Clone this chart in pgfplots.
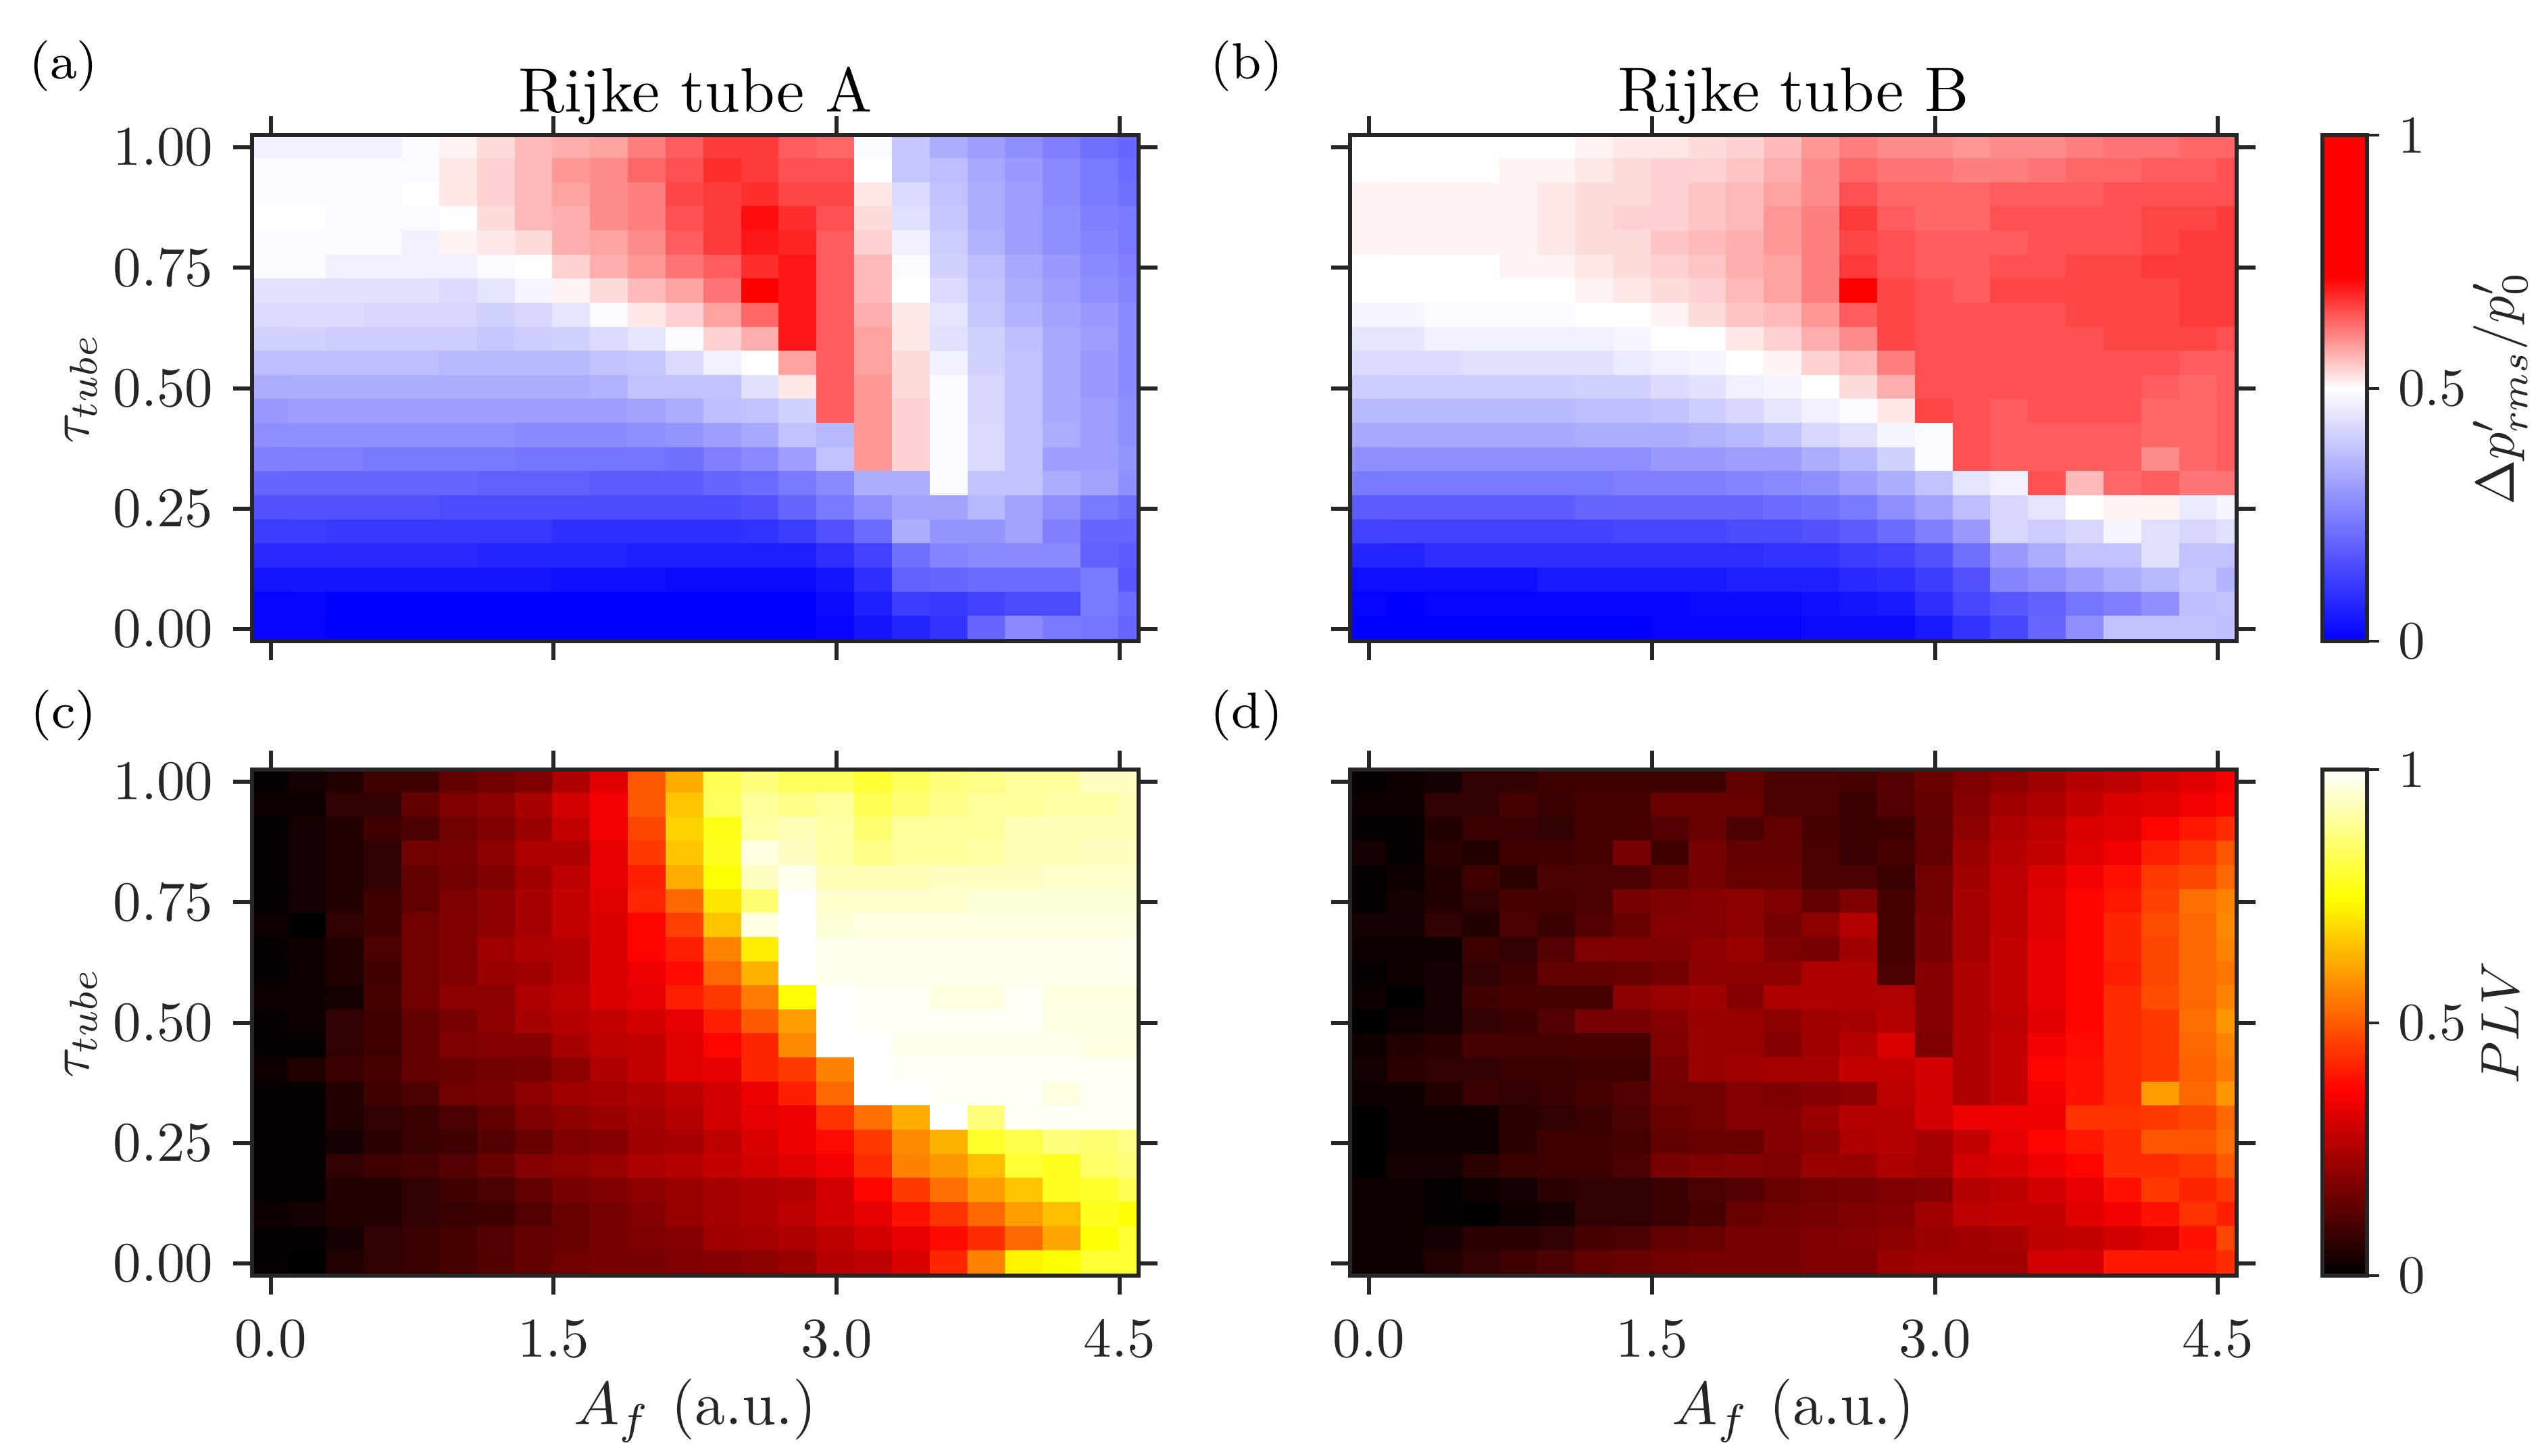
\RequirePackage{fix-cm}
\documentclass[border=0pt]{standalone}
\usepackage{pgfplots}
\usepackage{pgfplotstable}
\pgfplotsset{compat=1.18}
\definecolor{cdark}{HTML}{262626}

% colour values in percent of the colour range, rows from y=1.00 down to y=0.00, 24 per row
\pgfplotstableread[row sep=crcr]{z\\
47\\47\\47\\47\\49\\51\\53\\56\\57\\58\\61\\64\\67\\67\\64\\63\\49\\39\\34\\31\\28\\25\\22\\20\\
49\\49\\49\\49\\49\\52\\54\\56\\59\\60\\63\\65\\68\\67\\65\\65\\50\\39\\37\\33\\30\\27\\24\\21\\
49\\49\\49\\49\\50\\52\\54\\56\\58\\60\\61\\66\\67\\68\\66\\66\\52\\43\\38\\34\\31\\27\\24\\22\\
50\\50\\49\\49\\49\\50\\53\\56\\57\\60\\61\\65\\67\\71\\68\\65\\53\\44\\39\\34\\31\\28\\25\\24\\
49\\49\\49\\49\\47\\51\\52\\53\\57\\58\\60\\64\\67\\70\\69\\64\\54\\47\\40\\35\\31\\28\\26\\24\\
49\\49\\47\\47\\47\\47\\49\\50\\54\\57\\59\\62\\64\\68\\70\\64\\56\\49\\41\\37\\33\\30\\27\\25\\
44\\44\\44\\44\\44\\43\\45\\48\\51\\53\\56\\58\\62\\72\\70\\64\\56\\50\\43\\38\\34\\31\\28\\26\\
43\\43\\43\\42\\42\\42\\41\\42\\45\\49\\52\\54\\58\\63\\70\\64\\57\\52\\45\\39\\35\\32\\30\\27\\
41\\41\\40\\40\\40\\40\\39\\40\\41\\43\\45\\49\\54\\57\\70\\64\\58\\52\\44\\41\\37\\33\\31\\27\\
37\\37\\37\\37\\37\\36\\36\\36\\36\\38\\39\\43\\47\\50\\58\\64\\58\\53\\47\\41\\38\\33\\30\\27\\
34\\34\\34\\34\\34\\34\\34\\34\\34\\35\\38\\38\\38\\44\\52\\64\\59\\53\\49\\42\\38\\33\\30\\27\\
30\\31\\31\\31\\31\\31\\31\\31\\31\\31\\32\\34\\37\\38\\41\\64\\59\\54\\49\\42\\38\\33\\31\\28\\
28\\28\\28\\28\\28\\28\\28\\27\\27\\27\\28\\29\\31\\33\\38\\36\\59\\54\\49\\43\\38\\34\\31\\28\\
25\\25\\25\\24\\24\\24\\24\\23\\23\\23\\23\\22\\25\\27\\31\\38\\59\\54\\49\\43\\38\\31\\31\\29\\
20\\20\\20\\20\\20\\20\\19\\19\\19\\18\\18\\18\\20\\21\\24\\27\\34\\34\\49\\38\\38\\34\\32\\28\\
16\\16\\16\\16\\16\\15\\15\\15\\15\\15\\15\\15\\15\\16\\20\\24\\28\\32\\32\\36\\32\\28\\24\\22\\
12\\12\\11\\11\\11\\11\\11\\11\\9\\9\\9\\9\\9\\10\\12\\16\\21\\34\\29\\29\\32\\25\\20\\20\\
8\\8\\8\\8\\8\\8\\7\\7\\7\\7\\6\\6\\6\\6\\6\\9\\13\\22\\26\\27\\27\\27\\19\\18\\
4\\4\\4\\4\\4\\4\\4\\4\\3\\3\\3\\2\\2\\2\\2\\4\\9\\19\\20\\21\\21\\21\\24\\17\\
1\\1\\0\\0\\0\\0\\0\\0\\0\\0\\0\\0\\0\\0\\0\\2\\6\\12\\11\\13\\15\\15\\24\\21\\
1\\1\\0\\0\\0\\0\\0\\0\\0\\0\\0\\0\\0\\0\\0\\1\\4\\7\\10\\20\\27\\24\\23\\20\\
}\tabA

\pgfplotstableread[row sep=crcr]{z\\
50\\50\\50\\50\\50\\50\\51\\52\\52\\53\\54\\56\\59\\61\\60\\60\\59\\60\\60\\61\\62\\62\\63\\63\\
50\\50\\50\\50\\51\\51\\52\\53\\54\\54\\55\\57\\60\\63\\62\\62\\61\\61\\62\\63\\63\\64\\64\\65\\
51\\51\\51\\51\\51\\52\\53\\53\\54\\55\\56\\58\\60\\65\\63\\63\\63\\64\\64\\64\\65\\65\\65\\65\\
51\\51\\51\\51\\51\\52\\53\\54\\54\\55\\56\\59\\61\\67\\64\\63\\63\\65\\65\\65\\65\\66\\66\\67\\
51\\51\\51\\51\\51\\52\\53\\53\\55\\56\\57\\59\\61\\66\\65\\64\\64\\64\\65\\65\\65\\66\\67\\67\\
50\\50\\50\\50\\51\\51\\52\\53\\54\\55\\57\\58\\61\\67\\65\\64\\64\\65\\65\\66\\66\\67\\67\\67\\
50\\50\\50\\50\\50\\50\\51\\52\\53\\54\\56\\58\\61\\72\\66\\65\\64\\66\\66\\66\\66\\66\\67\\67\\
48\\48\\49\\49\\49\\49\\50\\50\\51\\53\\55\\56\\59\\64\\66\\65\\65\\65\\65\\66\\66\\66\\67\\67\\
45\\45\\47\\47\\47\\47\\47\\48\\50\\50\\52\\54\\57\\60\\66\\65\\65\\65\\65\\65\\66\\66\\66\\65\\
43\\43\\43\\44\\44\\44\\44\\46\\47\\48\\50\\51\\54\\56\\61\\65\\65\\65\\65\\65\\65\\65\\64\\64\\
40\\40\\40\\40\\40\\40\\41\\41\\43\\44\\47\\48\\50\\53\\57\\65\\65\\65\\65\\65\\65\\64\\63\\64\\
36\\36\\36\\36\\36\\36\\37\\37\\38\\40\\42\\45\\47\\49\\52\\66\\65\\64\\65\\65\\65\\63\\63\\64\\
33\\33\\33\\33\\33\\33\\34\\34\\34\\35\\36\\38\\42\\44\\48\\49\\65\\64\\64\\64\\64\\63\\63\\64\\
28\\28\\28\\28\\28\\28\\28\\28\\30\\30\\31\\31\\34\\36\\41\\49\\65\\64\\64\\64\\64\\60\\63\\64\\
24\\24\\24\\24\\24\\24\\24\\25\\25\\25\\26\\27\\28\\31\\34\\38\\45\\47\\65\\56\\63\\64\\62\\62\\
18\\18\\18\\18\\18\\18\\20\\20\\20\\20\\20\\21\\22\\24\\28\\32\\37\\42\\45\\50\\51\\51\\46\\48\\
13\\13\\13\\13\\13\\13\\13\\14\\14\\14\\15\\15\\16\\18\\21\\25\\30\\42\\40\\42\\48\\44\\42\\44\\
7\\7\\9\\9\\9\\9\\9\\9\\9\\9\\9\\10\\10\\12\\13\\16\\22\\30\\34\\38\\38\\44\\38\\38\\
3\\3\\3\\3\\3\\5\\5\\5\\5\\5\\6\\6\\6\\8\\9\\12\\16\\26\\28\\31\\34\\36\\39\\35\\
1\\0\\1\\1\\1\\1\\1\\1\\1\\2\\2\\2\\3\\4\\5\\9\\14\\17\\19\\23\\25\\28\\37\\38\\
0\\0\\0\\0\\0\\0\\0\\0\\1\\1\\1\\1\\2\\2\\2\\5\\10\\14\\20\\28\\38\\38\\38\\37\\
}\tabB

\pgfplotstableread[row sep=crcr]{z\\
1\\3\\5\\9\\9\\14\\16\\18\\25\\32\\50\\62\\83\\87\\84\\84\\80\\84\\87\\88\\90\\90\\94\\94\\
2\\2\\7\\7\\14\\18\\20\\24\\30\\35\\50\\66\\84\\90\\88\\90\\83\\86\\88\\90\\90\\91\\91\\93\\
1\\3\\5\\9\\11\\16\\18\\22\\28\\35\\47\\68\\77\\91\\93\\91\\86\\90\\90\\90\\93\\93\\93\\93\\
1\\3\\5\\7\\16\\17\\20\\25\\25\\33\\45\\66\\78\\97\\94\\91\\88\\90\\90\\91\\93\\93\\94\\94\\
1\\3\\5\\7\\14\\16\\18\\23\\27\\33\\41\\62\\75\\94\\98\\93\\93\\93\\94\\94\\94\\95\\95\\95\\
1\\3\\5\\9\\14\\18\\20\\24\\28\\32\\42\\52\\71\\86\\100\\95\\95\\95\\95\\96\\96\\96\\96\\96\\
2\\0\\7\\9\\16\\18\\20\\24\\28\\31\\37\\46\\66\\97\\100\\96\\97\\97\\97\\97\\97\\97\\97\\97\\
1\\2\\5\\11\\16\\18\\23\\25\\26\\31\\37\\41\\56\\72\\100\\98\\98\\98\\98\\98\\98\\98\\98\\98\\
1\\2\\5\\9\\16\\18\\22\\23\\26\\31\\34\\38\\52\\63\\100\\98\\98\\98\\98\\98\\98\\98\\98\\98\\
2\\2\\3\\10\\16\\20\\20\\25\\27\\31\\33\\41\\45\\55\\75\\100\\99\\99\\97\\97\\99\\97\\97\\97\\
1\\2\\7\\9\\14\\17\\20\\24\\26\\28\\30\\33\\41\\50\\60\\100\\99\\99\\99\\99\\99\\97\\97\\97\\
1\\1\\7\\9\\14\\18\\19\\19\\24\\27\\28\\32\\37\\42\\57\\100\\100\\98\\98\\98\\98\\98\\97\\97\\
2\\5\\8\\10\\14\\15\\16\\17\\20\\25\\28\\32\\33\\42\\45\\56\\100\\99\\99\\99\\99\\99\\99\\99\\
1\\1\\5\\9\\11\\16\\17\\20\\23\\24\\25\\27\\30\\34\\41\\52\\100\\100\\99\\99\\99\\97\\99\\99\\
1\\1\\5\\7\\8\\11\\14\\18\\20\\22\\24\\26\\30\\33\\34\\44\\53\\62\\100\\87\\99\\99\\99\\99\\
1\\1\\3\\6\\8\\9\\12\\15\\18\\19\\23\\24\\27\\31\\34\\38\\45\\57\\63\\79\\82\\87\\86\\88\\
1\\1\\7\\9\\10\\12\\15\\19\\20\\22\\25\\26\\28\\30\\32\\35\\43\\56\\59\\65\\80\\78\\85\\87\\
1\\1\\5\\5\\7\\9\\11\\14\\17\\18\\20\\22\\24\\25\\26\\30\\37\\45\\53\\60\\66\\78\\79\\83\\
2\\3\\5\\5\\7\\8\\9\\12\\15\\17\\19\\22\\24\\25\\27\\30\\33\\39\\44\\52\\60\\65\\78\\75\\
1\\1\\3\\7\\8\\10\\12\\14\\15\\17\\18\\19\\23\\24\\25\\27\\30\\33\\38\\43\\52\\61\\75\\80\\
1\\0\\5\\7\\8\\10\\12\\14\\16\\17\\17\\18\\19\\20\\22\\26\\27\\31\\42\\56\\73\\75\\80\\80\\
}\tabC

\pgfplotstableread[row sep=crcr]{z\\
1\\2\\3\\7\\7\\9\\9\\9\\9\\9\\14\\11\\11\\10\\12\\15\\18\\20\\23\\26\\27\\30\\32\\35\\
2\\2\\7\\7\\10\\8\\10\\10\\15\\15\\15\\11\\11\\8\\12\\14\\19\\23\\25\\28\\31\\32\\35\\37\\
1\\1\\5\\8\\8\\7\\10\\10\\12\\15\\11\\14\\10\\8\\9\\14\\20\\25\\27\\31\\32\\37\\40\\43\\
3\\1\\6\\5\\9\\9\\10\\17\\9\\17\\14\\14\\11\\8\\10\\14\\22\\26\\28\\32\\35\\41\\44\\49\\
1\\2\\5\\9\\6\\11\\11\\11\\14\\17\\15\\15\\11\\11\\8\\16\\23\\27\\31\\35\\39\\45\\47\\52\\
1\\3\\5\\7\\10\\10\\11\\17\\18\\19\\20\\18\\14\\18\\10\\16\\24\\27\\32\\37\\40\\46\\53\\56\\
3\\3\\7\\5\\11\\8\\12\\15\\19\\19\\20\\17\\20\\26\\10\\17\\24\\27\\32\\37\\42\\48\\52\\57\\
2\\2\\2\\9\\7\\12\\18\\18\\18\\20\\22\\18\\17\\23\\10\\17\\24\\28\\33\\37\\42\\47\\52\\56\\
1\\2\\3\\7\\9\\14\\14\\15\\16\\20\\20\\20\\25\\25\\11\\19\\25\\28\\33\\37\\41\\47\\52\\54\\
2\\0\\3\\9\\10\\10\\10\\20\\22\\23\\19\\25\\25\\25\\25\\19\\25\\28\\33\\37\\43\\48\\52\\56\\
0\\2\\3\\7\\8\\12\\17\\17\\19\\22\\22\\20\\23\\24\\26\\19\\25\\27\\32\\37\\43\\45\\53\\59\\
2\\5\\6\\10\\10\\10\\10\\10\\18\\22\\22\\19\\23\\26\\31\\18\\25\\28\\35\\38\\43\\45\\52\\56\\
3\\6\\7\\7\\8\\8\\9\\9\\17\\22\\23\\24\\24\\28\\28\\30\\25\\28\\37\\39\\43\\45\\51\\55\\
2\\2\\5\\8\\7\\8\\10\\12\\16\\16\\19\\18\\19\\20\\27\\30\\25\\28\\35\\39\\43\\60\\52\\59\\
0\\2\\2\\2\\6\\7\\8\\11\\15\\16\\19\\19\\22\\26\\26\\30\\34\\34\\34\\44\\44\\45\\47\\52\\
0\\2\\2\\2\\6\\9\\9\\10\\14\\15\\15\\19\\20\\25\\26\\24\\28\\33\\37\\40\\43\\49\\49\\53\\
0\\3\\3\\6\\8\\9\\9\\11\\17\\18\\19\\18\\22\\22\\25\\24\\30\\31\\34\\37\\43\\43\\45\\50\\
2\\2\\1\\2\\3\\6\\7\\7\\8\\11\\12\\15\\16\\17\\18\\19\\26\\27\\30\\33\\39\\45\\42\\45\\
2\\2\\1\\0\\2\\3\\7\\7\\8\\10\\15\\16\\17\\18\\19\\23\\27\\28\\28\\32\\35\\39\\44\\41\\
2\\2\\3\\6\\6\\7\\10\\11\\14\\15\\17\\17\\18\\19\\20\\22\\23\\24\\27\\28\\30\\32\\39\\47\\
2\\2\\5\\7\\9\\11\\14\\15\\16\\17\\17\\17\\18\\18\\22\\23\\23\\23\\30\\30\\40\\40\\40\\43\\
}\tabD

\pgfplotsset{
  colormap={bluered}{rgb255(0pt)=(0,0,255); rgb255(50pt)=(255,255,255); rgb255(72pt)=(255,0,0); rgb255(100pt)=(255,0,0)},
  colormap={hotmap}{rgb255(0pt)=(0,0,0); rgb255(36.5pt)=(255,0,0); rgb255(74.6pt)=(255,255,0); rgb255(100pt)=(255,255,255)},
  heat/.style={
    scale only axis, width=131.24pt, height=74.86pt, anchor=south west,
    xmin=-0.1, xmax=4.6, ymin=-0.025, ymax=1.025,
    xtick={0,1.5,3,4.5}, ytick={0,0.25,0.5,0.75,1},
    axis on top, tick align=outside, tick pos=both, major tick length=2.8pt,
    axis line style={color=cdark, line width=0.6pt},
    tick style={color=cdark, line width=0.6pt},
    every tick label/.append style={text=cdark, scale=0.83, transform shape},
    xticklabel style={yshift=-1.2pt, /pgf/number format/fixed, /pgf/number format/fixed zerofill, /pgf/number format/precision=1},
    yticklabel style={/pgf/number format/fixed, /pgf/number format/fixed zerofill, /pgf/number format/precision=2},
    xlabel style={at={(axis description cs:0.5,-0.267)}, anchor=center, text=cdark, scale=0.9, transform shape},
    ylabel style={at={(axis description cs:-0.1925,0.5)}, anchor=center, text=cdark, scale=0.82, transform shape},
    title style={at={(axis description cs:0.5,1.088)}, anchor=center, yshift=-6.7pt, scale=0.926, transform shape},
    point meta min=0, point meta max=100,
  },
  cells/.style={matrix plot*, mesh/cols=24, point meta=explicit},
  cbar/.style={
    colorbar style={
      at={(parent axis.north east)}, anchor=north west, xshift=4.1pt,
      scale only axis, width=6.67pt, height=74.86pt,
      ytick={0,50,100}, yticklabels={0,0.5,1},
      ytick pos=right, yticklabel pos=right, tick align=outside, major tick length=1.8pt,
      axis line style={color=cdark, line width=0.6pt},
      tick style={color=cdark, line width=0.4pt},
      every tick label/.append style={text=cdark, scale=0.79, transform shape},
      ylabel={#1}, ylabel style={at={(axis description cs:3.95,0.5)}, anchor=center, text=cdark, scale=0.8, transform shape},
    },
  },
}

\begin{document}
\begin{tikzpicture}
\path[use as bounding box] (0,0) rectangle (375.6pt,215.5pt);

\begin{axis}[heat, at={(37.26pt,120.6pt)}, colormap name=bluered,
  title={Rijke tube A}, xticklabels={}, ylabel={$\tau_{tube}$}]
\addplot[cells] table[x index=0, y index=0, meta=z, x expr={0.2*(\coordindex-24*floor((\coordindex+0.5)/24))}, y expr={1-0.05*floor((\coordindex+0.5)/24)}] {\tabA};
\end{axis}

\begin{axis}[heat, at={(199.8pt,120.6pt)}, colormap name=bluered,
  title={Rijke tube B}, xticklabels={}, yticklabels={},
  colorbar, cbar={$\Delta p'_{rms}/p'_0$}]
\addplot[cells] table[x index=0, y index=0, meta=z, x expr={0.2*(\coordindex-24*floor((\coordindex+0.5)/24))}, y expr={1-0.05*floor((\coordindex+0.5)/24)}] {\tabB};
\end{axis}

\begin{axis}[heat, at={(37.26pt,26.7pt)}, colormap name=hotmap,
  xlabel={$A_f$ (a.u.)}, ylabel={$\tau_{tube}$}]
\addplot[cells] table[x index=0, y index=0, meta=z, x expr={0.2*(\coordindex-24*floor((\coordindex+0.5)/24))}, y expr={1-0.05*floor((\coordindex+0.5)/24)}] {\tabC};
\end{axis}

\begin{axis}[heat, at={(199.8pt,26.7pt)}, colormap name=hotmap,
  xlabel={$A_f$ (a.u.)}, yticklabels={},
  colorbar, cbar={$PLV$}]
\addplot[cells] table[x index=0, y index=0, meta=z, x expr={0.2*(\coordindex-24*floor((\coordindex+0.5)/24))}, y expr={1-0.05*floor((\coordindex+0.5)/24)}] {\tabD};
\end{axis}

\foreach \lab/\x/\y in {(a)/9.4/205.7, (b)/184.5/205.7, (c)/9.4/109.6, (d)/184.5/109.6}
  \node[font=\fontsize{7.5}{9}\selectfont] at (\x pt,\y pt) {\lab};
\end{tikzpicture}
\end{document}
